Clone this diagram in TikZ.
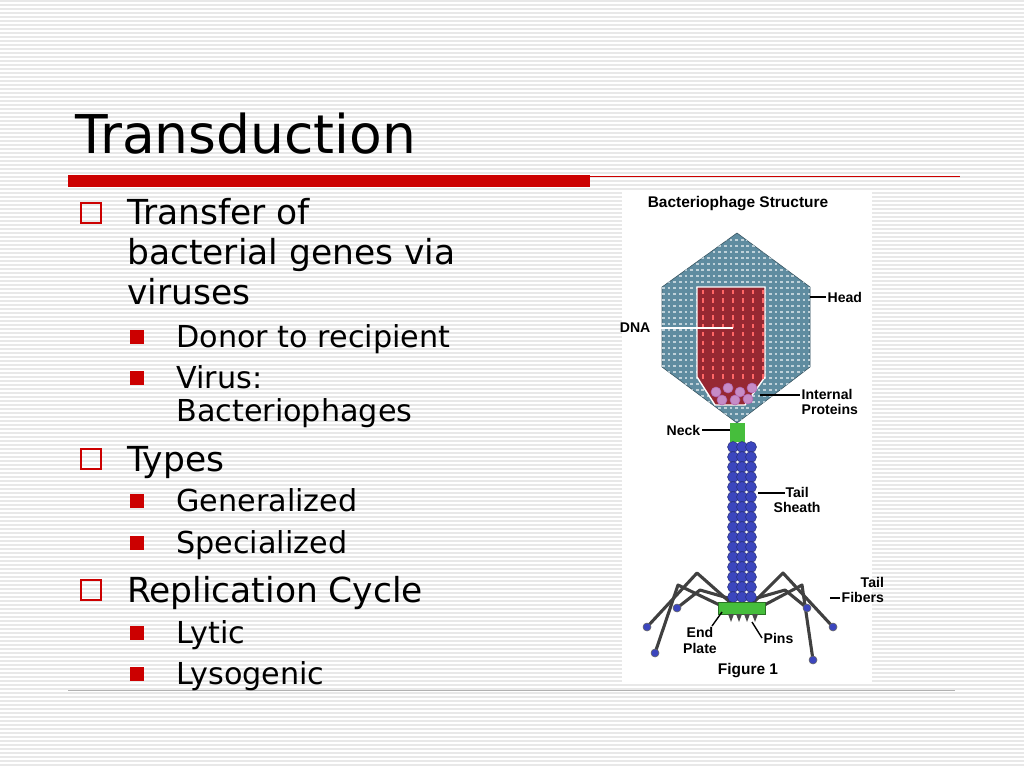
\documentclass[tikz,border=0pt]{standalone}
\usepackage{fontspec}
\setmainfont{DejaVu Sans}
\newfontfamily\figfont{Liberation Sans}
\usetikzlibrary{positioning}
\definecolor{slidered}{RGB}{204,0,0}
\definecolor{headblue}{RGB}{95,140,160}
\definecolor{dnared}{RGB}{150,40,50}
\definecolor{tailblue}{RGB}{60,70,190}
\definecolor{neckgreen}{RGB}{70,190,60}
\tikzset{
  lvlone/.style={anchor=base west,font=\fontsize{24.5}{28}\selectfont,inner sep=0pt},
  lvltwo/.style={anchor=base west,font=\fontsize{21.5}{25}\selectfont,inner sep=0pt},
  boxbullet/.style={draw=slidered,line width=1.8pt,minimum size=0.5cm,inner sep=0pt},
  fillbullet/.style={fill=slidered,minimum size=0.34cm,inner sep=0pt},
  figlabel/.style={font=\figfont\bfseries\fontsize{10}{11}\selectfont,inner sep=1pt,align=left},
  pointer/.style={draw=black,line width=1pt},
  fiber/.style={draw=black!75,line width=2.2pt,line join=round}
}
\begin{document}
\begin{tikzpicture}[x=0.025cm,y=-0.025cm]
  \useasboundingbox (0,0) rectangle (1024,768);
  \fill[white] (0,0) rectangle (1024,768);
  % striped background
  \foreach \i in {1,5,...,768}
    \draw[black!9,line width=0.8pt] (0,\i) -- (1024,\i);

  % title and rules
  \node[anchor=base west,inner sep=0pt,font=\fontsize{38}{44}\selectfont] (title) at (75,154) {Transduction};
  \fill[slidered] (68,175) rectangle (590,187);
  \draw[slidered,line width=0.6pt] (590,176) -- (960,176);
  \draw[black!30,line width=0.6pt] (68,690) -- (955,690);

  % bullets
  \node[boxbullet] (b1) at (91,213) {};
  \node[lvlone] (t1) at (127,224) {Transfer of};
  \node[lvlone] (t1b) at (127,264) {bacterial genes via};
  \node[lvlone] (t1c) at (127,304) {viruses};
  \node[fillbullet] (s1) at (137,337) {};
  \node[lvltwo] (u1) at (176,347) {Donor to recipient};
  \node[fillbullet] (s2) at (137,378) {};
  \node[lvltwo] (u2) at (176,388) {Virus:};
  \node[lvltwo] (u2b) at (176,421) {Bacteriophages};
  \node[boxbullet] (b2) at (91,459) {};
  \node[lvlone] (t2) at (127,471) {Types};
  \node[fillbullet] (s3) at (137,501) {};
  \node[lvltwo] (u3) at (176,511) {Generalized};
  \node[fillbullet] (s4) at (137,543) {};
  \node[lvltwo] (u4) at (176,553) {Specialized};
  \node[boxbullet] (b3) at (91,590) {};
  \node[lvlone] (t3) at (127,602) {Replication Cycle};
  \node[fillbullet] (s5) at (137,633) {};
  \node[lvltwo] (u5) at (176,643) {Lytic};
  \node[fillbullet] (s6) at (137,674) {};
  \node[lvltwo] (u6) at (176,684) {Lysogenic};

  % figure
  \fill[white] (622,192) rectangle (872,682);
  \node[figlabel,font=\figfont\bfseries\fontsize{11}{12}\selectfont] (figtitle) at (738,204) {Bacteriophage Structure};
  % tail fibers
  \draw[fiber] (732,604) -- (697,573) -- (647,627);
  \draw[fiber] (730,610) -- (678,585) -- (655,653);
  \draw[fiber] (735,600) -- (700,590) -- (677,608);
  \draw[fiber] (752,604) -- (783,573) -- (833,627);
  \draw[fiber] (755,610) -- (802,585) -- (813,660);
  \draw[fiber] (750,600) -- (785,590) -- (807,608);
  \foreach \p in {(647,627),(655,653),(677,608),(833,627),(813,660),(807,608)}
    \fill[tailblue,draw=black!60] \p circle (4);
  % head
  \fill[headblue,draw=headblue!60!black] (737,233) -- (810,287) -- (810,367) -- (737,423) -- (662,367) -- (662,287) -- cycle;
  \begin{scope}
    \clip (737,233) -- (810,287) -- (810,367) -- (737,423) -- (662,367) -- (662,287) -- cycle;
    \foreach \y in {240,246,...,420}
      \draw[white!60!headblue,line width=1.2pt,dash pattern=on 2pt off 2pt] (662,\y) -- (810,\y);
  \end{scope}
  \fill[dnared,draw=white,line width=1pt] (697,287) -- (765,287) -- (765,377) -- (745,405) -- (715,405) -- (697,377) -- cycle;
  \foreach \x in {703,713,...,763}
    \draw[red!60!white,line width=1.2pt,dashed] (\x,290) -- (\x,382);
  \foreach \x/\y in {716/392,728/388,740/392,752/388,722/400,735/400,748/399}
    \fill[violet!45!white,draw=violet!60] (\x,\y) circle (5);
  % neck and tail
  \fill[neckgreen] (730,423) rectangle (745,442);
  \foreach \y in {447,457,...,600}
    \foreach \x in {733,742,751}
      \fill[tailblue,draw=tailblue!60!black,line width=0.3pt] (\x,\y) circle (5.5);
  \fill[neckgreen,draw=neckgreen!60!black] (718,602) rectangle (765,614);
  \foreach \x in {728,736,744,752}
    \fill[black!70] (\x,614) -- (\x+3,622) -- (\x+6,614) -- cycle;
  % labels
  \coordinate (headpt) at (810,297);
  \node[figlabel,anchor=west] (head) at (826,297) {Head};
  \draw[pointer] (headpt) -- (head);
  \coordinate (dnapt) at (733,328);
  \node[figlabel,anchor=east] (dna) at (652,328) {DNA};
  \draw[pointer,draw=white] (dna.east) -- (dnapt);
  \coordinate (protpt) at (760,395);
  \node[figlabel,anchor=west] (prot) at (800,402) {Internal\\Proteins};
  \draw[pointer] (protpt) -- (prot.west |- 0,395);
  \coordinate (neckpt) at (730,430);
  \node[figlabel,anchor=east] (neck) at (702,430) {Neck};
  \draw[pointer] (neck) -- (neckpt);
  \coordinate (sheathpt) at (758,493);
  \node[figlabel,anchor=west,align=center] (sheath) at (772,500) {Tail\\Sheath};
  \draw[pointer] (sheathpt) -- (785,493);
  \coordinate (fiberpt) at (830,598);
  \node[figlabel,anchor=west,align=right] (fibers) at (840,590) {Tail\\Fibers};
  \draw[pointer] (fiberpt) -- (fibers.west |- fiberpt);
  \coordinate (platept) at (722,612);
  \node[figlabel,anchor=north,align=center] (plate) at (700,626) {End\\Plate};
  \draw[pointer] (platept) -- (712,626);
  \coordinate (pinspt) at (752,622);
  \node[figlabel,anchor=west] (pins) at (762,638) {Pins};
  \draw[pointer] (pinspt) -- (pins.west);
  \node[figlabel,font=\figfont\bfseries\fontsize{11}{12}\selectfont] (fig) at (748,671) {Figure 1};
\end{tikzpicture}
\end{document}
